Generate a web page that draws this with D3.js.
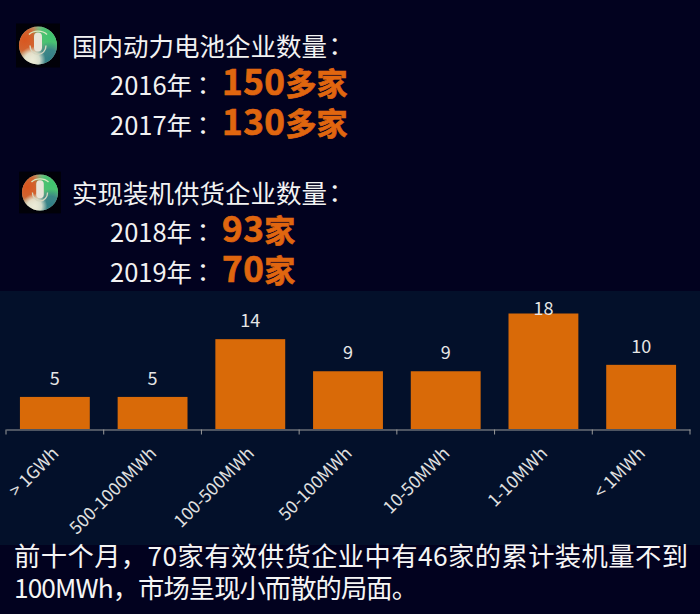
<!DOCTYPE html>
<html>
<head>
<meta charset="utf-8">
<script src="https://cdn.jsdelivr.net/npm/d3@7"></script>
<style>
html, body { margin: 0; padding: 0; background: #02021f; }
svg { display: block; }
text { font-family: "Noto Sans CJK SC", "Noto Sans", sans-serif; }
</style>
</head>
<body>
<div id="chart"></div>
<script>
const categories = ['> 1GWh', '500-1000MWh', '100-500MWh', '50-100MWh', '10-50MWh', '1-10MWh', '< 1MWh'];
const values = [5, 5, 14, 9, 9, 18, 10];

const headings = ['国内动力电池企业数量：', '实现装机供货企业数量：'];
const yearLabels = ['2016年：', '2017年：', '2018年：', '2019年：'];
const yearCounts = ['150多家', '130多家', '93家', '70家'];
const footnote = ['前十个月，70家有效供货企业中有46家的累计装机量不到', '100MWh，市场呈现小而散的局面。'];

const width = 700, height = 614;
const svg = d3.select('#chart').append('svg').attr('width', width).attr('height', height);

const defs = svg.append('defs');
// colour patches of the badge ball
function blob(id, color, cx, cy, r) {
    const g = defs.append('radialGradient').attr('id', id)
        .attr('cx', cx).attr('cy', cy).attr('r', r);
    g.append('stop').attr('offset', '0%').attr('stop-color', color).attr('stop-opacity', 1);
    g.append('stop').attr('offset', '55%').attr('stop-color', color).attr('stop-opacity', 0.85);
    g.append('stop').attr('offset', '100%').attr('stop-color', color).attr('stop-opacity', 0);
}
blob('bOrange', '#d9561f', '15%', '35%', '50%');
blob('bGreen', '#3fc46e', '85%', '25%', '50%');
blob('bTeal', '#2f7f86', '80%', '85%', '45%');
blob('bWhite', '#ecebd8', '35%', '88%', '35%');

// panel behind the chart
svg.append('rect').attr('x', 0).attr('y', 291).attr('width', width).attr('height', 254).attr('fill', '#03102a');

// little microphone badges
[[38, 45.5, 19], [40, 192.5, 18]].forEach(([cx, cy, r]) => {
    const g = svg.append('g').attr('transform', `translate(${cx},${cy}) scale(${r / 19})`);
    g.append('rect').attr('x', -22).attr('y', -22).attr('width', 44).attr('height', 44).attr('fill', '#010108');
    g.append('circle').attr('r', 19).attr('fill', '#a9b08e');
    ['bOrange', 'bGreen', 'bTeal', 'bWhite'].forEach(id => {
        g.append('circle').attr('r', 19).attr('fill', `url(#${id})`);
    });
    g.append('rect').attr('x', -4).attr('y', -13).attr('width', 8).attr('height', 19).attr('rx', 4).attr('fill', '#e8e4d8');
    g.append('path').attr('d', 'M-8,0 A8,9 0 0 0 8,0').attr('fill', 'none').attr('stroke', '#d6d6c0').attr('stroke-width', 1.4);
    g.append('path').attr('d', 'M-9,-11 A11,8 0 0 1 9,-11').attr('fill', 'none').attr('stroke', '#d8e8c0').attr('stroke-width', 1.4);
});

// the colon sits centred in the reference, TC font draws it that way
function withColon(sel, shift) {
    sel.each(function(d) {
        const t = d3.select(this);
        t.append('tspan').text(d.slice(0, -1));
        t.append('tspan').attr('dx', shift).style('font-family', '"Noto Sans CJK TC"').text('：');
    });
}

// header text
const headY = [56, 203];
svg.selectAll('text.head').data(headings).enter().append('text')
    .attr('class', 'head')
    .attr('x', 72)
    .attr('y', (d, i) => headY[i])
    .attr('fill', '#f2f2f2')
    .attr('font-size', 25.5)
    .call(withColon, -5);

const rowY = [95, 135, 241.5, 282];
svg.selectAll('text.year').data(yearLabels).enter().append('text')
    .attr('class', 'year')
    .attr('x', 110)
    .attr('y', (d, i) => rowY[i])
    .attr('fill', '#f2f2f2')
    .attr('font-size', 25.5)
    .call(withColon, -2);

// digits are bigger than the hanzi next to them
svg.selectAll('text.count').data(yearCounts).enter().append('text')
    .attr('class', 'count')
    .attr('x', 222)
    .attr('y', (d, i) => rowY[i])
    .attr('fill', '#e0660f')
    .attr('stroke', '#e0660f')
    .attr('stroke-width', 0.7)
    .attr('font-weight', 700)
    .each(function(d) {
        const t = d3.select(this);
        t.append('tspan').attr('font-size', 35).attr('letter-spacing', 0.5).text(d.replace(/\D/g, ''));
        t.append('tspan').attr('font-size', 31).text(d.replace(/\d/g, ''));
    });

// bars
const x = d3.scaleBand().domain(categories).range([6, 690]).paddingInner(0.285).paddingOuter(0.1425);
const y = d3.scaleLinear().domain([0, 18]).range([429, 313.5]);

svg.selectAll('rect.bar').data(values).enter().append('rect')
    .attr('class', 'bar')
    .attr('x', (d, i) => x(categories[i]))
    .attr('y', d => y(d))
    .attr('width', x.bandwidth())
    .attr('height', d => y(0) - y(d))
    .attr('fill', '#d96a08');

// labels stop at the top of the plot, that is why 18 sits on its bar
svg.selectAll('text.val').data(values).enter().append('text')
    .attr('class', 'val')
    .attr('x', (d, i) => x(categories[i]) + x.bandwidth() / 2)
    .attr('y', d => Math.max(y(d) - 12, 315))
    .attr('text-anchor', 'middle')
    .attr('fill', '#e6e6e6')
    .attr('font-size', 18)
    .text(d => d);

// axis
const axis = svg.append('g')
    .attr('transform', 'translate(0,429.5)')
    .call(d3.axisBottom(x).tickSize(0).tickPadding(0).tickSizeOuter(0));
axis.select('.domain').attr('stroke', '#9a9a9a').attr('stroke-width', 1);
axis.selectAll('.tick line').remove();
const edges = categories.map((c, i) => x(c) - x.step() * x.paddingInner() / 2).concat([690]);
axis.selectAll('line.sep').data(edges).enter().append('line')
    .attr('class', 'sep')
    .attr('x1', d => d).attr('x2', d => d)
    .attr('y1', 0).attr('y2', 5)
    .attr('stroke', '#9a9a9a');
axis.selectAll('.tick text')
    .attr('fill', '#e0e0e0')
    .attr('font-size', 17.5)
    .attr('text-anchor', 'end')
    .attr('dy', 0)
    .attr('transform', 'translate(5,25) rotate(-45)');

// footnote, digits run wider in the reference so stretch to its line widths
const footWidth = [674, 404];
svg.selectAll('text.foot').data(footnote).enter().append('text')
    .attr('class', 'foot')
    .attr('x', 14)
    .attr('y', (d, i) => 566 + i * 32)
    .attr('fill', '#f5f5f5')
    .attr('font-size', 26.3)
    .attr('textLength', (d, i) => footWidth[i])
    .attr('lengthAdjust', 'spacing')
    .text(d => d);
</script>
</body>
</html>
